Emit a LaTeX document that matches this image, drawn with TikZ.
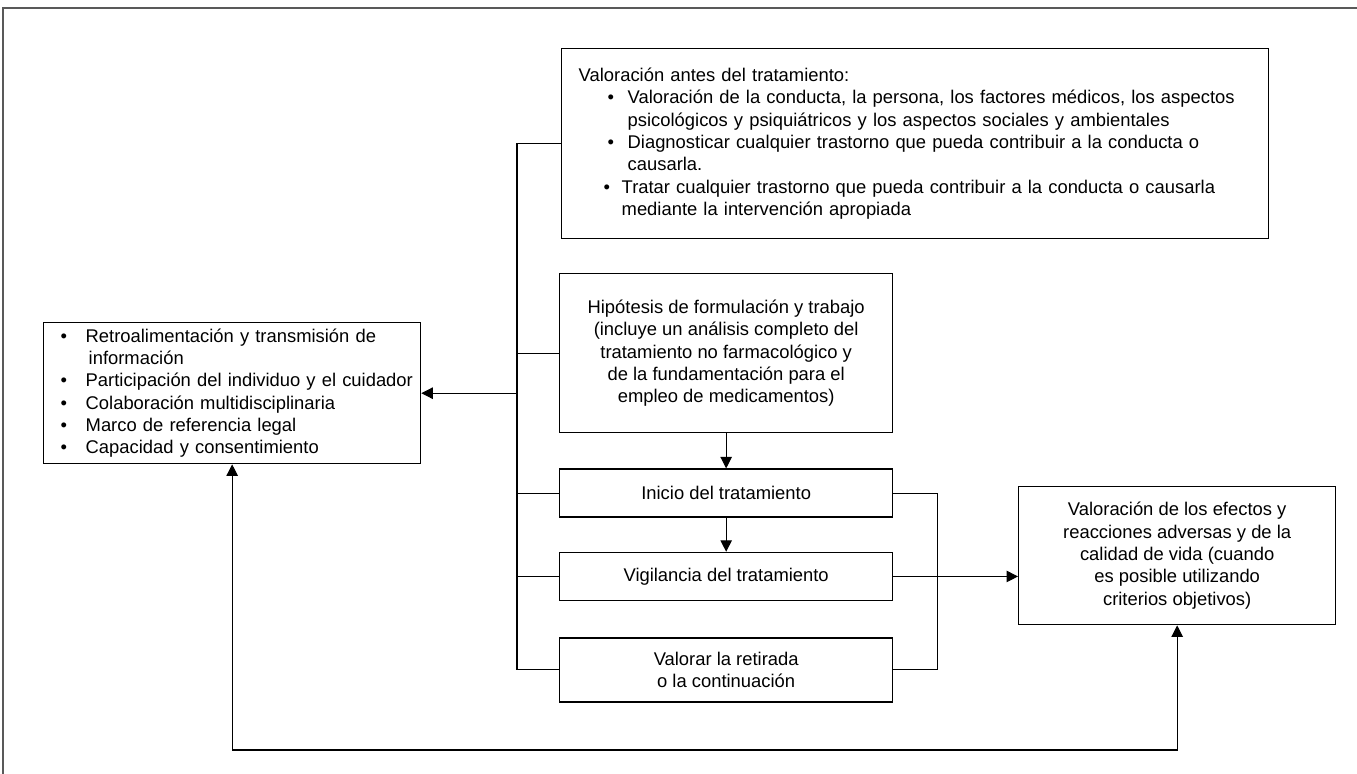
\documentclass[tikz,border=0pt]{standalone}
\usepackage{fontspec}
\setmainfont{Liberation Sans}
\usetikzlibrary{positioning,arrows.meta,calc}

\begin{document}
\begin{tikzpicture}[x=0.02cm, y=-0.02cm,
  font={\fontsize{10.47}{12.7}\selectfont}, line width=0.6pt,
  box/.style={draw, line width=0.8pt, align=center, inner sep=0pt},
  listbox/.style={box, align=left, inner xsep=0.34cm, anchor=north west},
  stepbox/.style={box, minimum width=6.66cm, minimum height=0.96cm},
  frame/.style={draw=black!65, line width=0.8pt},
  >={Triangle[length=6.5pt, width=6.5pt]}]
  \useasboundingbox (0,0) rectangle (1357,774);
  \draw[frame] (3,774) |- (1357,8);
  \node[listbox, text width=13.46cm, minimum height=3.8cm] (pre) at (561,48) {Valoración antes del tratamiento:\\
    \hspace*{0.58cm}\makebox[0.4cm][l]{\textbullet}Valoración de la conducta, la persona, los factores médicos, los aspectos\\
    \hspace*{0.98cm}psicológicos y psiquiátricos y los aspectos sociales y ambientales\\
    \hspace*{0.58cm}\makebox[0.4cm][l]{\textbullet}Diagnosticar cualquier trastorno que pueda contribuir a la conducta o\\
    \hspace*{0.98cm}causarla.\\
    \hspace*{0.5cm}\makebox[0.36cm][l]{\textbullet}Tratar cualquier trastorno que pueda contribuir a la conducta o causarla\\
    \hspace*{0.86cm}mediante la intervención apropiada};
  \node[listbox, inner xsep=0.05cm, text width=7.44cm, minimum height=2.82cm] (lst) at (43,322) {\hspace*{0.29cm}\makebox[0.5cm][l]{\textbullet}Retroalimentación y transmisión de\\
    \hspace*{0.85cm}información\\
    \hspace*{0.29cm}\makebox[0.5cm][l]{\textbullet}Participación del individuo y el cuidador\\
    \hspace*{0.29cm}\makebox[0.5cm][l]{\textbullet}Colaboración multidisciplinaria\\
    \hspace*{0.29cm}\makebox[0.5cm][l]{\textbullet}Marco de referencia legal\\
    \hspace*{0.29cm}\makebox[0.5cm][l]{\textbullet}Capacidad y consentimiento};
  \node[stepbox, minimum height=3.18cm, anchor=north west] (hyp) at (559,273) {Hipótesis de formulación y trabajo\\
    (incluye un análisis completo del\\ tratamiento no farmacológico y\\ de la fundamentación para el\\ empleo de medicamentos)};
  \node[stepbox, below=0.7cm of hyp] (ini) {Inicio del tratamiento};
  \node[stepbox, below=0.68cm of ini] (vig) {Vigilancia del tratamiento};
  \node[stepbox, minimum height=1.28cm, below=0.72cm of vig] (ret) {Valorar la retirada\\ o la continuación};
  \node[box, minimum width=6.34cm, minimum height=2.76cm, anchor=north west] (eff) at (1018,486) {Valoración de los efectos y\\
    reacciones adversas y de la\\ calidad de vida (cuando\\ es posible utilizando\\ criterios objetivos)};
  \coordinate (bus) at ($(pre.west)+(-44,0)$);
  \draw (pre.west) -- (bus) |- (ret.west);
  \foreach \n in {hyp,ini,vig}
    \draw (bus |- \n.west) -- (\n.west);
  \draw[->] (bus |- lst.east) -- (lst.east);
  \draw[->] (hyp) -- (ini);
  \draw[->] (ini) -- (vig);
  \coordinate (brk) at ($(ini.east)+(44,0)$);
  \draw (ini.east) -- (brk) |- (ret.east);
  \draw[->] (vig.east) -- (vig.east -| eff.west);
  \coordinate (low) at (0,750);
  \draw[<->] (lst.south) -- (lst.south |- low) -| (eff.south);
\end{tikzpicture}
\end{document}
